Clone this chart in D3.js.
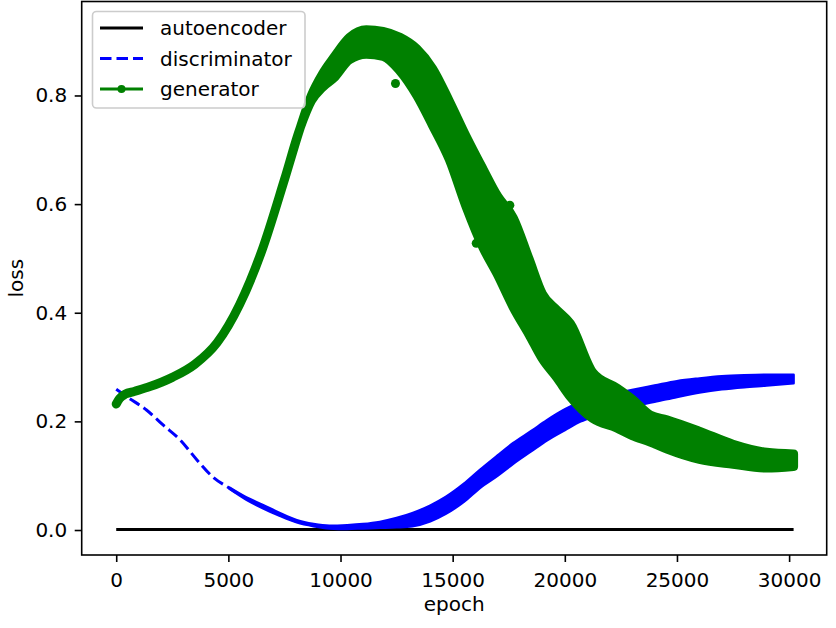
<!DOCTYPE html>
<html>
<head>
<meta charset="utf-8">
<script src="https://cdn.jsdelivr.net/npm/d3@7"></script>
<style>
  body { margin: 0; background: #fff; }
  svg { font-family: "DejaVu Sans", sans-serif; }
</style>
</head>
<body>
<div id="chart"></div>
<script>
// Values
const xTicks = [0, 5000, 10000, 15000, 20000, 25000, 30000];
const yTicks = [0.0, 0.2, 0.4, 0.6, 0.8];
const seriesNames = ["autoencoder", "discriminator", "generator"];

// autoencoder loss (flat, near zero)
const aeEpoch = [0, 10000, 20000, 30200];
const aeLoss = [0.001, 0.001, 0.001, 0.001];

// discriminator loss: lower / upper edge of the noisy band
const discEpoch = [0, 600, 1350, 2100, 2850, 3600, 4300, 5050, 5800, 6550, 7300, 8050, 8800, 9500, 10300, 11000, 11750, 12500, 13200, 14000, 14700, 15500, 16200, 17000, 17700, 18500, 19200, 20000, 20700, 21500, 22300, 23000, 24000, 25000, 26000, 27000, 28000, 29000, 30200];
const discLow = [0.259, 0.242, 0.221, 0.193, 0.166, 0.129, 0.098, 0.076, 0.056, 0.040, 0.026, 0.014, 0.007, 0.003, 0.002, 0.003, 0.004, 0.005, 0.007, 0.016, 0.030, 0.052, 0.077, 0.100, 0.122, 0.145, 0.165, 0.184, 0.200, 0.211, 0.221, 0.228, 0.236, 0.245, 0.253, 0.259, 0.263, 0.266, 0.270];
const discHigh = [0.259, 0.242, 0.221, 0.193, 0.166, 0.129, 0.098, 0.078, 0.060, 0.046, 0.031, 0.018, 0.011, 0.008, 0.009, 0.011, 0.015, 0.022, 0.031, 0.045, 0.061, 0.085, 0.110, 0.137, 0.160, 0.182, 0.202, 0.222, 0.236, 0.245, 0.252, 0.258, 0.266, 0.274, 0.279, 0.283, 0.285, 0.286, 0.286];

// generator loss: lower / upper edge of the marker band
const genEpoch = [0, 150, 400, 800, 1500, 2500, 3500, 4500, 5500, 6500, 7500, 8200, 8700, 9200, 9700, 10400, 11150, 11900, 12650, 13400, 14100, 14850, 15600, 16350, 17000, 17700, 18400, 19000, 19650, 20250, 21250, 22300, 23000, 23800, 24550, 26000, 27500, 29000, 30200];
const genLow = [0.232, 0.242, 0.250, 0.255, 0.264, 0.281, 0.305, 0.345, 0.415, 0.515, 0.645, 0.740, 0.790, 0.815, 0.832, 0.866, 0.876, 0.872, 0.845, 0.800, 0.745, 0.682, 0.595, 0.520, 0.470, 0.410, 0.360, 0.315, 0.280, 0.245, 0.205, 0.188, 0.174, 0.162, 0.149, 0.130, 0.121, 0.114, 0.117];
const genHigh = [0.232, 0.242, 0.250, 0.255, 0.264, 0.281, 0.305, 0.345, 0.415, 0.515, 0.645, 0.740, 0.800, 0.840, 0.870, 0.907, 0.921, 0.918, 0.907, 0.886, 0.850, 0.790, 0.725, 0.665, 0.615, 0.575, 0.500, 0.435, 0.405, 0.380, 0.290, 0.262, 0.241, 0.212, 0.203, 0.182, 0.158, 0.143, 0.140];
// a few stray generator points sticking out of the band
const genOutEpoch = [12450, 16050, 17550];
const genOutLoss = [0.822, 0.528, 0.598];

const width = 836, height = 628;
const plot = { left: 81.7, right: 826.7, top: 1.5, bottom: 555 };
const colors = { autoencoder: "#000000", discriminator: "#0000ff", generator: "#008000" };

const svg = d3.select("#chart").append("svg")
    .attr("width", width)
    .attr("height", height);

const x = d3.scaleLinear().domain([-1539, 31676]).range([plot.left, plot.right]);
const y = d3.scaleLinear().domain([-0.046, 0.973]).range([plot.bottom, plot.top]);

// build point tables
const aeData = aeEpoch.map((e, i) => ({ e, v: aeLoss[i] }));
const discData = discEpoch.map((e, i) => ({ e, lo: discLow[i], hi: discHigh[i] }));
const genData = genEpoch.map((e, i) => ({ e, lo: genLow[i], hi: genHigh[i] }));

// autoencoder
svg.append("path")
    .datum(aeData)
    .attr("fill", "none")
    .attr("stroke", colors.autoencoder)
    .attr("stroke-width", 3)
    .attr("d", d3.line().x(d => x(d.e)).y(d => y(d.v)));

// discriminator: dashed centre line, then the noisy band where it exists
svg.append("path")
    .datum(discData)
    .attr("fill", "none")
    .attr("stroke", colors.discriminator)
    .attr("stroke-width", 3)
    .attr("stroke-dasharray", "11.5,5")
    .attr("d", d3.line().curve(d3.curveMonotoneX).x(d => x(d.e)).y(d => y((d.lo + d.hi) / 2)));

const discBand = discData.filter(d => d.e >= 5050);
svg.append("path")
    .datum(discBand)
    .attr("fill", colors.discriminator)
    .attr("stroke", colors.discriminator)
    .attr("stroke-width", 2.5)
    .attr("stroke-linejoin", "round")
    .attr("d", d3.area().curve(d3.curveMonotoneX).x(d => x(d.e)).y0(d => y(d.lo)).y1(d => y(d.hi)));

// generator: band of markers
const genArea = d3.area().curve(d3.curveMonotoneX).x(d => x(d.e)).y0(d => y(d.lo)).y1(d => y(d.hi));
svg.append("path")
    .datum(genData)
    .attr("fill", colors.generator)
    .attr("stroke", colors.generator)
    .attr("stroke-width", 9)
    .attr("stroke-linejoin", "round")
    .attr("stroke-linecap", "round")
    .attr("d", genArea);

svg.append("g")
    .selectAll("circle")
    .data(genOutEpoch.map((e, i) => ({ e, v: genOutLoss[i] })))
    .join("circle")
    .attr("cx", d => x(d.e))
    .attr("cy", d => y(d.v))
    .attr("r", 4.5)
    .attr("fill", colors.generator);

// axes
const xAxis = svg.append("g")
    .attr("transform", `translate(0,${plot.bottom})`)
    .call(d3.axisBottom(x).tickValues(xTicks).tickFormat(d3.format("d")).tickSize(7).tickPadding(11));
const yAxis = svg.append("g")
    .attr("transform", `translate(${plot.left},0)`)
    .call(d3.axisLeft(y).tickValues(yTicks).tickFormat(d3.format(".1f")).tickSize(7).tickPadding(7.5));

[xAxis, yAxis].forEach(a => {
    a.select(".domain").remove();
    a.selectAll(".tick line").attr("stroke", "#000").attr("stroke-width", 1.6);
    a.selectAll(".tick text")
        .attr("font-family", "DejaVu Sans, sans-serif")
        .attr("font-size", 20)
        .attr("fill", "#000");
});

svg.append("rect")
    .attr("x", plot.left)
    .attr("y", plot.top)
    .attr("width", plot.right - plot.left)
    .attr("height", plot.bottom - plot.top)
    .attr("fill", "none")
    .attr("stroke", "#000")
    .attr("stroke-width", 1.6);

svg.append("text")
    .attr("x", (plot.left + plot.right) / 2)
    .attr("y", 611)
    .attr("text-anchor", "middle")
    .attr("font-size", 20)
    .text("epoch");

svg.append("text")
    .attr("transform", `translate(23,${(plot.top + plot.bottom) / 2}) rotate(-90)`)
    .attr("text-anchor", "middle")
    .attr("font-size", 20)
    .text("loss");

// legend
const legend = svg.append("g");
legend.append("rect")
    .attr("x", 92.5).attr("y", 11.5)
    .attr("width", 212.5).attr("height", 96.5)
    .attr("rx", 4)
    .attr("fill", "#fff").attr("fill-opacity", 0.8)
    .attr("stroke", "#cccccc").attr("stroke-width", 1.6);

const rowY = [28, 58.5, 89];
seriesNames.forEach((name, i) => {
    const g = legend.append("g").attr("transform", `translate(0,${rowY[i]})`);
    g.append("line")
        .attr("x1", 100).attr("x2", 143)
        .attr("stroke", colors[name])
        .attr("stroke-width", 3)
        .attr("stroke-dasharray", name === "discriminator" ? "11.5,5" : null);
    if (name === "generator") {
        g.append("circle").attr("cx", 121.5).attr("r", 4).attr("fill", colors[name]);
    }
    g.append("text")
        .attr("x", 160)
        .attr("y", 7)
        .attr("font-size", 20)
        .text(name);
});
</script>
</body>
</html>
